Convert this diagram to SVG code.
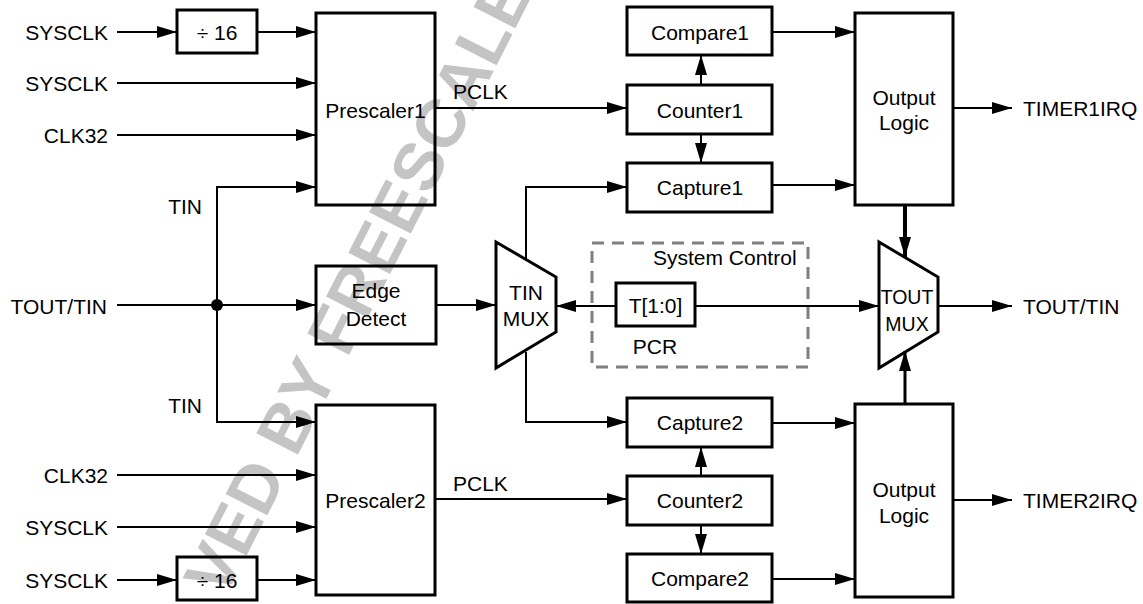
<svg xmlns="http://www.w3.org/2000/svg" width="1143" height="604" viewBox="0 0 1143 604">
<style>
text{font-family:"Liberation Sans",Arial,sans-serif;font-size:21px;fill:#000}
.c{text-anchor:middle}
.r{text-anchor:end}
.box{fill:none;stroke:#000;stroke-width:3}
.ln{fill:none;stroke:#000;stroke-width:2}
.arr{marker-end:url(#ah)}
.wm{font-family:"Liberation Sans",Arial,sans-serif;font-weight:bold;font-size:68px;fill:#c4c4c4}
</style>
<defs>
<marker id="ah" markerUnits="userSpaceOnUse" markerWidth="20" markerHeight="12" refX="20" refY="6" orient="auto">
<path d="M0,0 L20,6 L0,12 z" fill="#000"/>
</marker>
</defs>
<rect width="1143" height="604" fill="#fff"/>
<text class="wm" transform="translate(224,600) rotate(-63)">VED BY FREESCALE</text>

<g id="connectors">
<line class="ln arr" x1="117" y1="32" x2="177" y2="32"/>
<line class="ln arr" x1="257" y1="32" x2="316" y2="32"/>
<line class="ln arr" x1="117" y1="83" x2="316" y2="83"/>
<line class="ln arr" x1="117" y1="135" x2="316" y2="135"/>
<polyline class="ln arr" points="217,305 217,187 316,187"/>
<polyline class="ln arr" points="217,305 217,422 316,422"/>
<line class="ln arr" x1="117" y1="305" x2="316" y2="305"/>
<circle cx="217" cy="305" r="6" fill="#000"/>
<line class="ln arr" x1="117" y1="475" x2="316" y2="475"/>
<line class="ln arr" x1="117" y1="527" x2="316" y2="527"/>
<line class="ln arr" x1="117" y1="580" x2="177" y2="580"/>
<line class="ln arr" x1="257" y1="580" x2="316" y2="580"/>
<line class="ln arr" x1="435" y1="108" x2="627" y2="108"/>
<line class="ln arr" x1="435" y1="499" x2="627" y2="499"/>
<line class="ln arr" x1="701" y1="85" x2="701" y2="55"/>
<line class="ln arr" x1="701" y1="134" x2="701" y2="163"/>
<line class="ln arr" x1="701" y1="476" x2="701" y2="447"/>
<line class="ln arr" x1="701" y1="525" x2="701" y2="554"/>
<line class="ln arr" x1="436" y1="305" x2="496" y2="305"/>
<line class="ln arr" x1="616" y1="306" x2="556" y2="306"/>
<line class="ln arr" x1="695" y1="306" x2="879" y2="306"/>
<polyline class="ln arr" points="526,259 526,187 627,187"/>
<polyline class="ln arr" points="526,352 526,422 627,422"/>
<line class="ln arr" x1="772" y1="32" x2="855" y2="32"/>
<line class="ln arr" x1="772" y1="185" x2="855" y2="185"/>
<line class="ln arr" x1="772" y1="423" x2="855" y2="423"/>
<line class="ln arr" x1="772" y1="579" x2="855" y2="579"/>
<line class="ln arr" x1="953" y1="108" x2="1012" y2="108"/>
<line class="ln arr" x1="953" y1="500" x2="1012" y2="500"/>
<line class="ln arr" x1="938" y1="306" x2="1012" y2="306"/>
<line class="arr" x1="905" y1="205" x2="905" y2="257" stroke="#000" stroke-width="4"/>
<line class="arr" x1="905" y1="404" x2="905" y2="351" stroke="#000" stroke-width="3"/>
</g>

<g id="labels">
<text class="r" x="108" y="39.5">SYSCLK</text>
<text class="r" x="108" y="90.5">SYSCLK</text>
<text class="r" x="108" y="142.5">CLK32</text>
<text class="r" x="202" y="214">TIN</text>
<text class="r" x="107" y="314">TOUT/TIN</text>
<text class="r" x="202" y="413">TIN</text>
<text class="r" x="108" y="482.5">CLK32</text>
<text class="r" x="108" y="534.5">SYSCLK</text>
<text class="r" x="108" y="587.5">SYSCLK</text>
<text x="453" y="99">PCLK</text>
<text x="453" y="491">PCLK</text>
<text x="1023" y="115.5">TIMER1IRQ</text>
<text x="1023" y="313.5">TOUT/TIN</text>
<text x="1023" y="507.5">TIMER2IRQ</text>
</g>

<g id="div16a"><rect class="box" x="177" y="10" width="80" height="43"/><text class="c" x="217" y="39.5">÷ 16</text></g>
<g id="div16b"><rect class="box" x="177" y="557" width="80" height="43"/><text class="c" x="217" y="587.5">÷ 16</text></g>
<g id="prescaler1"><rect class="box" x="316" y="13" width="119" height="192"/><text class="c" x="375.5" y="118">Prescaler1</text></g>
<g id="prescaler2"><rect class="box" x="316" y="405" width="119" height="190"/><text class="c" x="375.5" y="508">Prescaler2</text></g>
<g id="edgedetect"><rect class="box" x="316" y="266" width="120" height="78"/><text class="c" x="376" y="298">Edge</text><text class="c" x="376" y="326">Detect</text></g>
<g id="tinmux"><polygon class="box" points="496,242 556,277 556,332 496,368" stroke-width="2.5"/><text class="c" x="526" y="300">TIN</text><text class="c" x="526" y="326">MUX</text></g>
<g id="systemcontrol"><rect x="592" y="243" width="216" height="124" fill="none" stroke="#808080" stroke-width="3" stroke-dasharray="12 8"/><text x="653" y="265">System Control</text><text class="c" x="655" y="354">PCR</text></g>
<g id="t10"><rect class="box" x="616" y="283" width="79" height="43"/><text class="c" x="655.5" y="313">T[1:0]</text></g>
<g id="compare1"><rect class="box" x="627" y="7" width="145" height="48"/><text class="c" x="700" y="39.5">Compare1</text></g>
<g id="counter1"><rect class="box" x="627" y="85" width="145" height="49"/><text class="c" x="700" y="117.5">Counter1</text></g>
<g id="capture1"><rect class="box" x="627" y="163" width="145" height="49"/><text class="c" x="700" y="195">Capture1</text></g>
<g id="capture2"><rect class="box" x="627" y="398" width="145" height="49"/><text class="c" x="700" y="430">Capture2</text></g>
<g id="counter2"><rect class="box" x="627" y="476" width="145" height="49"/><text class="c" x="700" y="508">Counter2</text></g>
<g id="compare2"><rect class="box" x="627" y="554" width="145" height="48"/><text class="c" x="700" y="586">Compare2</text></g>
<g id="outputlogic1"><rect class="box" x="855" y="13" width="98" height="192"/><text class="c" x="904" y="105">Output</text><text class="c" x="904" y="130">Logic</text></g>
<g id="outputlogic2"><rect class="box" x="855" y="404" width="98" height="193"/><text class="c" x="904" y="497">Output</text><text class="c" x="904" y="523">Logic</text></g>
<g id="toutmux"><polygon class="box" points="879,242 938,277 938,332 879,368" stroke-width="2.5"/><text class="c" x="907" y="304" style="font-size:19.5px">TOUT</text><text class="c" x="907" y="331" style="font-size:19.5px">MUX</text></g>
</svg>
